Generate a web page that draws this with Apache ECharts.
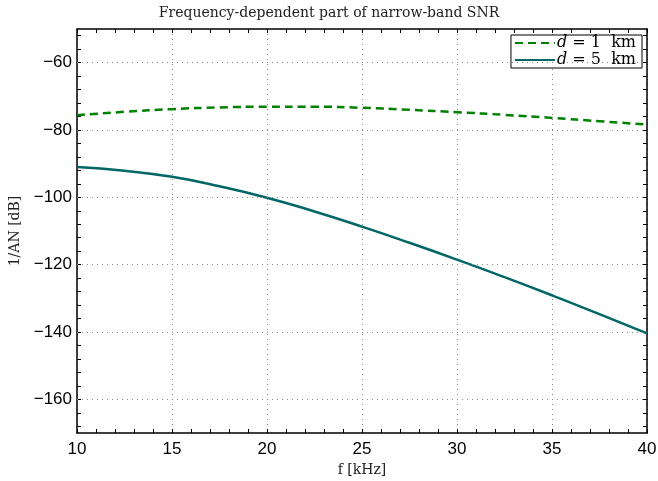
<!DOCTYPE html>
<html><head><meta charset="utf-8">
<script src="https://cdn.jsdelivr.net/npm/echarts@6/dist/echarts.min.js"></script>
<style>html,body{margin:0;padding:0;background:#fff}#c{width:658px;height:481px}</style>
</head><body><div id="c"></div>
<script>
const freq = [10, 12.5, 15, 17.5, 20, 22.5, 25, 27.5, 30, 32.5, 35, 37.5, 40];
const snr1km = [-75.6, -74.6, -73.8, -73.3, -73.1, -73.1, -73.4, -74.0, -74.7, -75.5, -76.4, -77.4, -78.4];
const snr5km = [-91.0, -92.1, -93.9, -96.7, -100.1, -104.2, -108.7, -113.5, -118.5, -123.7, -129.1, -134.7, -140.4];
const xTicks = [10, 15, 20, 25, 30, 35, 40];
const yTicks = [-160, -140, -120, -100, -80, -60];
const yMinorTicks = [-168, -164, -160, -156, -152, -148, -144, -140, -136, -132, -128, -124, -120, -116, -112, -108, -104, -100, -96, -92, -88, -84, -80, -76, -72, -68, -64, -60, -56, -52];

const chart = echarts.init(document.getElementById('c'), null, {renderer: 'canvas'});
const serif = '"DejaVu Serif", "Liberation Serif", serif';
const sans = '"Liberation Sans", Arial, sans-serif';
const gridStyle = {color: '#888', type: [1, 4], width: 1};
const baseX = {
  type: 'value', min: 10, max: 40, interval: 5,
  axisLine: {show: true, onZero: false, lineStyle: {color: '#000', width: 1.5}},
  axisTick: {show: true, inside: true, length: 4, lineStyle: {color: '#000'}},
  minorTick: {show: true, splitNumber: 5, length: 4, lineStyle: {color: '#000'}},
};
const baseY = {
  type: 'value', min: -170, max: -50,
  axisLine: {show: true, onZero: false, lineStyle: {color: '#000', width: 1.5}},
  axisTick: {show: true, inside: true, length: 4, customValues: yMinorTicks, lineStyle: {color: '#000'}},
  minorTick: {show: false},
  splitLine: {show: false}
};
chart.setOption({
  animation: false,
  backgroundColor: '#fff',
  title: {
    text: 'Frequency-dependent part of narrow-band SNR',
    left: 'center', top: 1,
    textStyle: {fontFamily: serif, fontSize: 14, fontWeight: 'normal', color: '#222'}
  },
  grid: {left: 77, right: 11, top: 29, bottom: 48, containLabel: false, outerBoundsMode: 'none'},
  legend: {
    right: 16, top: 35, orient: 'vertical', itemGap: 1,
    itemWidth: 40, itemHeight: 15,
    borderColor: '#000', borderWidth: 1, padding: [0, 6, 0, 3],
    backgroundColor: '#fff',
    itemStyle: {opacity: 0},
    data: ['d1', 'd5'],
    formatter: n => n === 'd1' ? '{i|d} = 1  km' : '{i|d} = 5  km',
    textStyle: {
      fontFamily: serif, fontSize: 16, lineHeight: 16, color: '#000', padding: [0, 0, 0, -3],
      rich: {i: {fontFamily: serif, fontStyle: 'italic', fontSize: 16, lineHeight: 16, color: '#000'}}
    }
  },
  xAxis: [
    Object.assign({}, baseX, {
      position: 'bottom',
      name: 'f [kHz]', nameLocation: 'middle', nameGap: 26,
      nameTextStyle: {fontFamily: serif, fontSize: 14, color: '#222'},
      axisLabel: {show: true, fontFamily: sans, fontSize: 17, color: '#000', margin: 8,
        formatter: v => xTicks.includes(v) ? String(v) : ''},
      splitLine: {show: true, lineStyle: gridStyle}
    }),
    Object.assign({}, baseX, {position: 'top', axisLabel: {show: false}, splitLine: {show: false}})
  ],
  yAxis: [
    Object.assign({}, baseY, {
      position: 'left',
      name: '1/AN [dB]', nameLocation: 'middle', nameGap: 55,
      nameTextStyle: {fontFamily: serif, fontSize: 14, color: '#222'},
      axisLabel: {show: true, fontFamily: sans, fontSize: 17, color: '#000', margin: 5,
        customValues: yTicks, formatter: v => String(v).replace('-', '\u2212')}
    }),
    Object.assign({}, baseY, {position: 'right', axisLabel: {show: false}})
  ],
  series: [
    {
      name: 'd1', type: 'line', smooth: true, showSymbol: false, symbol: 'none',
      data: freq.map((f, i) => [f, snr1km[i]]),
      lineStyle: {color: '#008000', width: 2.5, type: [8, 5]},
      itemStyle: {color: '#008000'},
      markLine: {
        silent: true, symbol: 'none', label: {show: false},
        lineStyle: gridStyle, animation: false,
        data: yTicks.map(v => ({yAxis: v}))
      },
      z: 3
    },
    {
      name: 'd5', type: 'line', smooth: true, showSymbol: false, symbol: 'none',
      data: freq.map((f, i) => [f, snr5km[i]]),
      lineStyle: {color: '#006666', width: 2.5},
      itemStyle: {color: '#006666'},
      z: 3
    }
  ]
});
</script></body></html>
